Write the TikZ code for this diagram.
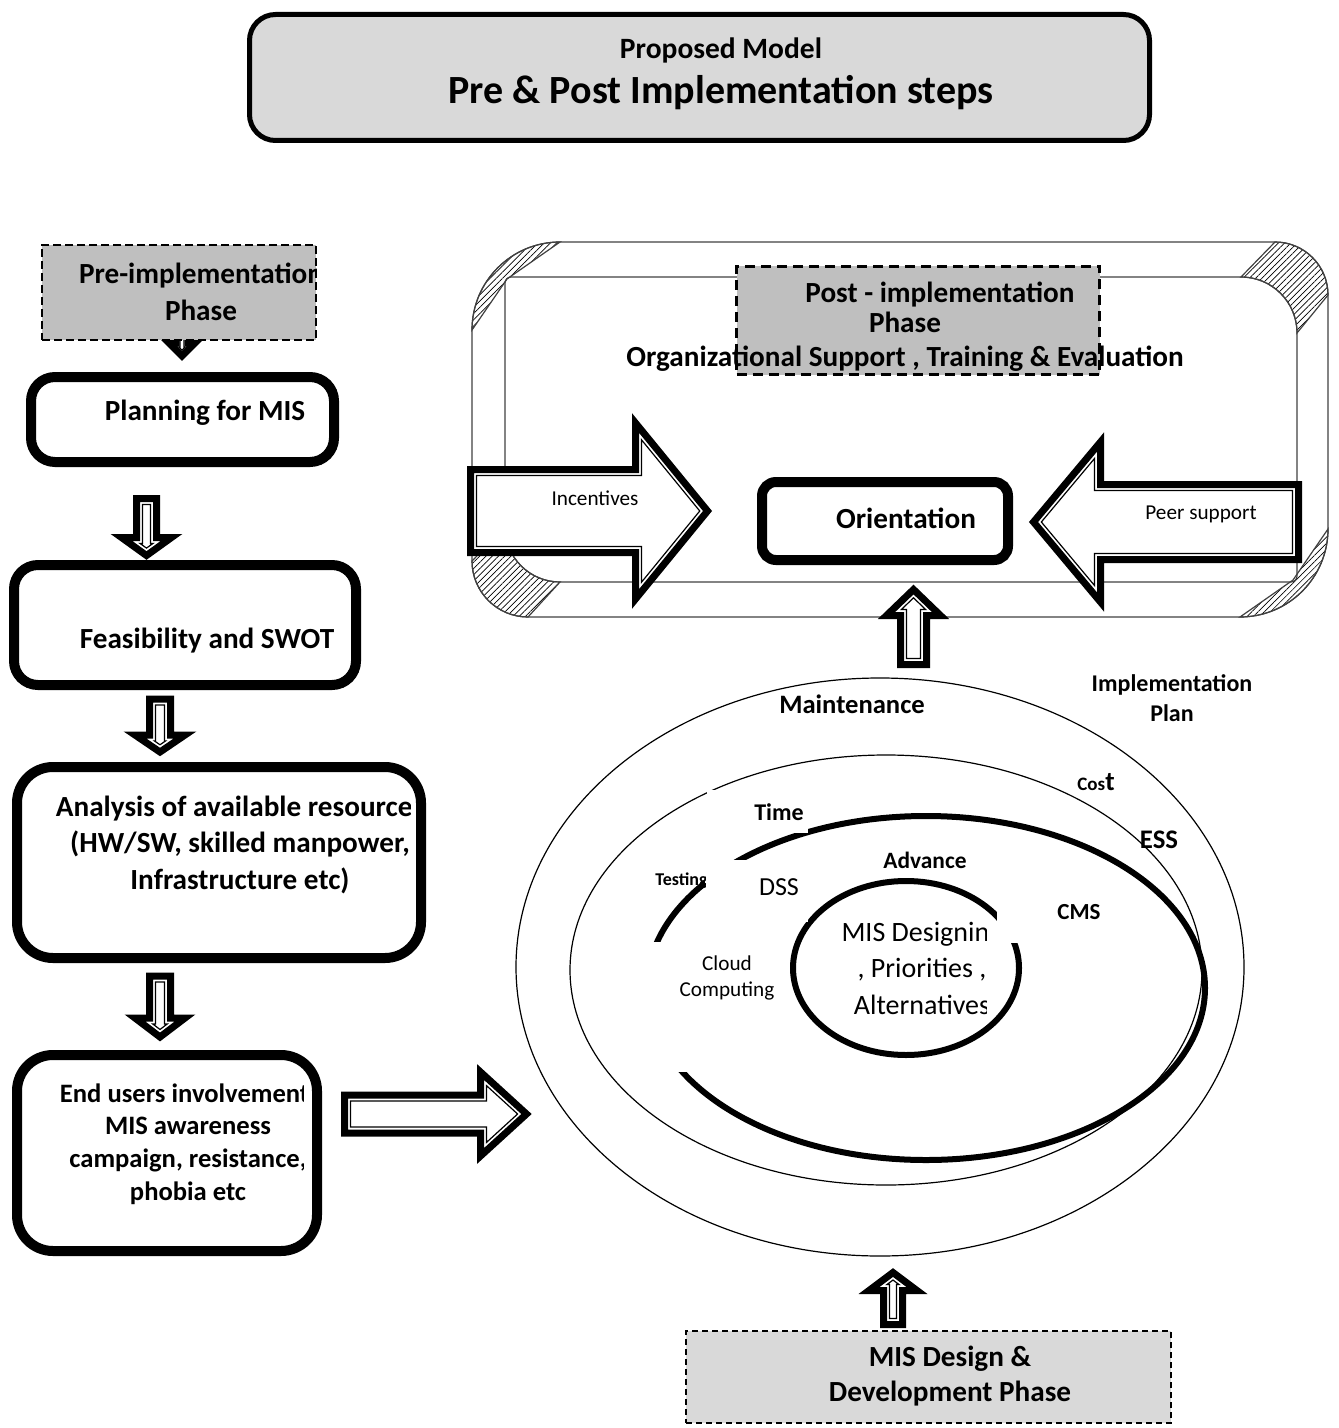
\documentclass[tikz,border=0pt]{standalone}
\usepackage{fontspec}
\setmainfont{Carlito}
\usetikzlibrary{patterns.meta}

\tikzset{
  blkout/.style={draw, fill=white, line width=3.5pt, miter limit=10},
  blkin/.style={draw, line width=0.6pt},
  % length / half shaft / half head / head length / inset
  pics/blkarrow/.style args={#1/#2/#3/#4/#5}{code={
    \pgfmathsetmacro\bkx{#1-#4+#5}
    \pgfmathsetmacro\tipx{#1-#5/sin(atan(#3/#4))}
    \pgfmathsetmacro\hdy{(#4-#5-#5/sin(atan(#3/#4)))*#3/#4}
    \pgfmathsetmacro\shy{#2-#5}
    \path[blkout] (0,-#2) -- ({#1-#4},-#2) -- ({#1-#4},-#3) -- (#1,0)
      -- ({#1-#4},#3) -- ({#1-#4},#2) -- (0,#2) -- cycle;
    \path[blkin] (#5,-\shy) -- (\bkx,-\shy) -- (\bkx,-\hdy) -- (\tipx,0)
      -- (\bkx,\hdy) -- (\bkx,\shy) -- (#5,\shy) -- cycle;
  }}
}

\begin{document}
\begin{tikzpicture}[x=0.5pt, y=-0.5pt,
    stepbox/.style={draw, line width=5pt, fill=white, rounded corners=12pt},
    phasebox/.style={draw, fill=black!25, line width=0.8pt, dash pattern=on 4pt off 2pt},
    txt/.style={font=\bfseries\fontsize{14.6}{18}\selectfont, align=center, inner sep=0pt},
    lbl/.style={font=\bfseries\fontsize{12}{14}\selectfont, inner sep=0pt},
    normtxt/.style={font=\fontsize{10.6}{13}\selectfont, align=center, inner sep=0pt},
    wipe/.style={fill=white},
    frame/.style={draw=black!75, line width=0.6pt},
    hatch/.style={frame, pattern={Lines[angle=45, distance=2.2pt, line width=0.35pt]}},
    ring/.style={line width=0.6pt},
    thickring/.style={line width=3pt}
  ]
  \useasboundingbox (0,0) rectangle (1338,1428);

  % Title
  \node[draw, line width=2.5pt, fill=black!15, rounded corners=13pt,
        minimum width=450pt, minimum height=63pt] (title) at (699.5,77.5) {};
  \node[txt, font=\bfseries\fontsize{14.75}{16}\selectfont] (titlea) at (721,50) {Proposed Model};
  \node[txt, font=\bfseries\fontsize{20}{22}\selectfont] (titleb) at (721,93) {Pre \& Post Implementation steps};

  % Pre-implementation column
  \pic[rotate=-90] at (182,328) {blkarrow=28/6/13/13/4};
  \node[phasebox, minimum width=137pt, minimum height=47.7pt] (pre) at (179,292.5) {};
  \begin{scope}
    \clip (pre.south west) rectangle (pre.north east);
    \node[txt, font=\bfseries\fontsize{14.6}{18.5}\selectfont] (pretxt) at (201,291.5) {Pre-implementation\\Phase};
  \end{scope}
  \node[stepbox, minimum width=151.5pt, minimum height=42.5pt] (plan) at (182.5,419.5) {};
  \node[txt] (plantxt) at (205,413) {Planning for MIS};
  \pic[rotate=-90] at (146.5,498.5) {blkarrow=57/10/25/18/6};
  \node[stepbox, minimum width=171pt, minimum height=60pt] (feas) at (185,625) {};
  \node[txt] (feastxt) at (207,641) {Feasibility and SWOT};
  \pic[rotate=-90] at (160,699) {blkarrow=53/10.5/25/17/6};
  \node[stepbox, rounded corners=18pt, minimum width=202pt, minimum height=95.5pt] (anal) at (219,862.5) {};
  \begin{scope}
    \clip (anal.south west) rectangle (410,762);
    \node[txt, font=\bfseries\fontsize{14.6}{18.25}\selectfont] (analtxt) at (240,844.5)
      {Analysis of available resources\\(HW/SW, skilled manpower,\\Infrastructure etc)};
  \end{scope}
  \pic[rotate=-90] at (160,976) {blkarrow=61/10.5/25/19/6};
  \node[stepbox, rounded corners=18pt, minimum width=150pt, minimum height=98pt] (endu) at (167,1153) {};
  \begin{scope}
    \clip (endu.south west) rectangle (303,1050);
    \node[txt, font=\bfseries\fontsize{13.3}{16.3}\selectfont] (endutxt) at (188,1144)
      {End users involvement,\\MIS awareness\\campaign, resistance,\\phobia etc};
  \end{scope}
  \pic at (344.5,1114) {blkarrow=182/19/42/46/6};

  % Post-implementation frame
  \path[hatch] (560,242) arc[start angle=270, end angle=180, radius=88] -- (507,279) -- cycle;
  \path[hatch] (1241,277) -- (1275,242) arc[start angle=-90, end angle=0, radius=53]
    -- (1297,333) arc[start angle=0, end angle=-90, radius=56] -- cycle;
  \path[hatch] (1328,529) arc[start angle=0, end angle=90, radius=88] -- (1293,580) -- cycle;
  \path[hatch] (472,561) arc[start angle=180, end angle=90, radius=56]
    -- (560,582) arc[start angle=90, end angle=180, radius=55] -- cycle;
  \draw[frame] (560,242) -- (1275,242) arc[start angle=-90, end angle=0, radius=53]
    -- (1328,529) arc[start angle=0, end angle=90, radius=88]
    -- (528,617) arc[start angle=90, end angle=180, radius=56]
    -- (472,330) arc[start angle=180, end angle=270, radius=88] -- cycle;
  \draw[frame] (511,277) -- (1241,277) arc[start angle=-90, end angle=0, radius=56]
    -- (1297,576) arc[start angle=0, end angle=90, radius=6]
    -- (560,582) arc[start angle=90, end angle=180, radius=55]
    -- (505,283) arc[start angle=180, end angle=270, radius=6] -- cycle;

  \node[draw, fill=black!25, line width=1.5pt, dash pattern=on 5pt off 3pt,
        minimum width=181.5pt, minimum height=54pt] (post) at (918,320.5) {};
  \node[txt] (posta) at (940,295) {Post - implementation};
  \node[txt] (postb) at (905,322) {Phase};
  \node[txt] (postc) at (905,359) {Organizational Support , Training \& Evaluation};

  \pic at (470.5,511) {blkarrow=237/41.5/88/72/6};
  \node[normtxt] (inctxt) at (595,498) {Incentives};
  \pic[rotate=180] at (1298.5,522) {blkarrow=265/37.5/80/67/6};
  \node[normtxt] (peertxt) at (1201,514) {Peer support};
  \node[stepbox, rounded corners=7pt, minimum width=123pt, minimum height=39pt] (orient) at (885,521) {};
  \node[txt] (orienttxt) at (906,518) {Orientation};
  \pic[rotate=90] at (913.5,664.5) {blkarrow=75/13/27/26/6};

  % Design rings
  \draw[ring] (880,967) ellipse [x radius=364, y radius=289];
  \draw[ring] (886,970) ellipse [x radius=316, y radius=215];
  \draw[thickring] (926,988) ellipse [x radius=279, y radius=172];
  \draw[thickring] (906,968) ellipse [x radius=113, y radius=87];
  \fill[wipe] (707,790) rectangle (808,833);
  \fill[wipe] (705,860) rectangle (808,922);
  \fill[wipe] (997,880) rectangle (1120,943);
  \fill[wipe] (640,942) rectangle (790,1072);

  \node[lbl, font=\bfseries\fontsize{13.3}{15}\selectfont] (maint) at (852,704) {Maintenance};
  \node[lbl, align=center, font=\bfseries\fontsize{12}{15}\selectfont] (implan) at (1172,698) {Implementation\\Plan};
  \node[lbl] (cost) at (1096,782) {{\fontsize{9.5}{10}\selectfont Cos}{\fontsize{13.5}{14}\selectfont t}};
  \node[lbl] (time) at (779,812) {Time};
  \node[lbl, font=\bfseries\fontsize{13.4}{15}\selectfont] (ess) at (1159,840) {ESS};
  \node[lbl, font=\bfseries\fontsize{11.7}{14}\selectfont] (adv) at (925,860) {Advance};
  \begin{scope}
    \clip (640,860) rectangle (705,900);
    \node[lbl, font=\bfseries\fontsize{9}{10}\selectfont, anchor=west] (test) at (655,881) {Testing};
  \end{scope}
  \node[normtxt, font=\fontsize{13}{14}\selectfont] (dss) at (779,887) {DSS};
  \node[lbl, font=\bfseries\fontsize{11.5}{14}\selectfont] (cms) at (1079,912) {CMS};
  \node[normtxt] (cloud) at (727,978) {Cloud\\Computing};
  \begin{scope}
    \clip (800,900) rectangle (986,1040);
    \node[normtxt, font=\fontsize{14}{18.25}\selectfont] (mistxt) at (922,968)
      {MIS Designing\\, Priorities ,\\Alternatives};
  \end{scope}

  % Design phase
  \pic[rotate=90] at (893,1324.5) {blkarrow=52/9.5/24/18/6};
  \node[draw, fill=black!15, line width=0.8pt, dash pattern=on 3pt off 2pt,
        minimum width=242.5pt, minimum height=46pt] (misdev) at (928.5,1377) {};
  \node[txt, font=\bfseries\fontsize{14.6}{17.5}\selectfont] (misdevtxt) at (950,1376.5) {MIS Design \&\\Development Phase};
\end{tikzpicture}
\end{document}
